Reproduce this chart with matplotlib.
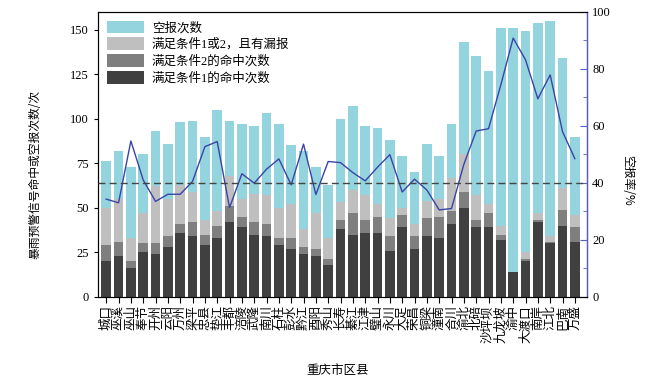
import matplotlib
matplotlib.use("Agg")
import matplotlib.pyplot as plt
import numpy as np

plt.rcParams['font.family'] = ['Liberation Serif', 'Noto Sans CJK SC', 'DejaVu Sans']
plt.rcParams['axes.unicode_minus'] = False

districts = ["城口", "巫溪", "巫山", "奉节", "开州", "云阳", "万州", "梁平", "忠县", "垫江",
             "丰都", "涪陵", "武隆", "南川", "石柱", "彭水", "黔江", "酉阳", "秀山", "长寿",
             "綦江", "江津", "璧山", "永川", "大足", "荣昌", "铜梁", "潼南", "合川", "渝北",
             "北碚", "沙坪坝", "九龙坡", "渝中", "大渡口", "南岸", "江北", "巴南", "万盛"]

# cumulative levels (counts)
total_warn = [76, 82, 73, 80, 93, 86, 98, 99, 90, 105,
              99, 97, 96, 103, 97, 85, 82, 73, 63, 100,
              107, 96, 95, 88, 79, 70, 86, 79, 97, 143,
              135, 127, 151, 151, 149, 154, 155, 134, 90]
cond12_miss = [50, 55, 33, 47, 62, 55, 63, 59, 43, 48,
               68, 55, 58, 57, 50, 52, 38, 47, 33, 53,
               60, 57, 52, 44, 50, 41, 54, 55, 67, 80,
               57, 52, 40, 14, 25, 47, 34, 61, 46]
cond2_hit = [29, 31, 20, 30, 30, 34, 41, 42, 35, 40,
             51, 45, 42, 41, 33, 33, 28, 27, 21, 43,
             47, 43, 45, 34, 46, 34, 44, 45, 48, 59,
             43, 47, 35, 14, 21, 43, 31, 49, 39]
cond1_hit = [20, 23, 16, 25, 24, 28, 36, 34, 29, 33,
             42, 39, 35, 34, 29, 27, 24, 23, 18, 38,
             35, 36, 36, 26, 39, 27, 34, 33, 41, 50,
             39, 39, 32, 14, 20, 42, 30, 40, 31]
false_rate = [34.3, 33.0, 54.7, 41.0, 33.5, 36.0, 36.0, 40.5, 52.7, 54.5,
              31.3, 43.2, 39.9, 44.8, 48.4, 39.3, 53.6, 35.9, 47.5, 47.1,
              43.6, 40.7, 45.5, 49.9, 36.8, 41.3, 37.5, 30.5, 31.0, 46.5,
              58.2, 59.0, 74.4, 90.8, 83.2, 69.5, 77.9, 58.0, 48.5]
ref_rate = 40

legend_labels = ["空报次数", "满足条件1或2，且有漏报", "满足条件2的命中次数", "满足条件1的命中次数"]
colors = ["#93d4df", "#bfbfbf", "#7f7f7f", "#404040"]

fig = plt.figure(figsize=(6.68, 3.84), dpi=100)
ax = fig.add_axes([0.147, 0.227, 0.732, 0.742])
x = np.arange(len(districts))
w = 0.8
handles = []
for vals, c, lab in zip([total_warn, cond12_miss, cond2_hit, cond1_hit], colors, legend_labels):
    h = ax.bar(x, vals, width=w, color=c, label=lab, zorder=2)
    handles.append(h)

ax.set_xlim(-0.65, len(districts) - 1 + 1.0)
ax.set_ylim(0, 160)
ax.set_yticks([0, 25, 50, 75, 100, 125, 150])
ax.set_xticks(x)
ax.set_xticklabels(districts, rotation=90, fontsize=9, family=['Noto Sans CJK SC'])
ax.tick_params(axis='x', length=4, width=0.8, direction='out', pad=2)
ax.tick_params(axis='y', labelsize=9, length=3, direction='out')
ax.set_ylabel("暴雨预警信号命中或空报次数/次", fontsize=8.5, family=['Noto Sans CJK SC'])
ax.yaxis.set_label_coords(-0.115, 0.43)
ax.set_xlabel("重庆市区县", fontsize=9, family=['Noto Sans CJK SC'])
ax.xaxis.set_label_coords(0.49, -0.235)
for s in ax.spines.values():
    s.set_color('#333333')
    s.set_linewidth(0.8)

ax2 = ax.twinx()
ax2.plot(x, false_rate, color="#3a44a6", lw=1.0, zorder=3)
ax2.axhline(ref_rate, color="#444444", lw=1.0, ls=(0, (5, 3)), zorder=3)
ax2.set_ylim(0, 100)
ax2.set_yticks([0, 20, 40, 60, 80, 100])
ax2.set_yticks([10, 30, 50, 70, 90], minor=True)
ax2.tick_params(axis='y', labelsize=9, length=5, direction='in', color="#5a5fbf")
ax2.tick_params(axis='y', which='minor', length=3, direction='in', color="#5a5fbf")
ax2.spines['right'].set_color("#5a5fbf")
ax2.spines['right'].set_linewidth(1.0)
ax2.set_ylabel("空报率/%", fontsize=8.5, family=['Noto Sans CJK SC'], rotation=270)
ax2.yaxis.set_label_coords(1.097, 0.41)

leg = ax.legend(handles=handles, loc='upper left', frameon=False,
                prop={'family': ['Liberation Serif', 'Noto Sans CJK SC'], 'size': 9},
                handlelength=3.0, handleheight=1.2, labelspacing=0.25, borderaxespad=0.3,
                handletextpad=0.6)

fig.savefig("out.png", dpi=100)
